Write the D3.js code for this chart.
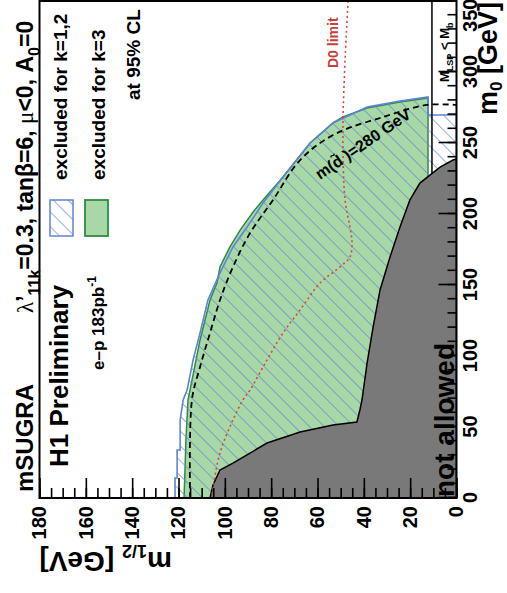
<!DOCTYPE html>
<html><head><meta charset="utf-8">
<script src="https://cdn.jsdelivr.net/npm/d3@7"></script>
<style>
body{margin:0;background:#fff}
svg{display:block}
text{font-family:"Liberation Sans",Arial,sans-serif;font-weight:bold;fill:#000}
</style>
</head><body>
<svg id="c" width="507" height="593"></svg>
<script>
// ---- data (m0 [GeV], m1/2 [GeV]) ----
const m0MajorTicks = [0,50,100,150,200,250,300,350];
const m0MinorTicks = d3.range(0,351,10);
const m12MajorTicks = [0,20,40,60,80,100,120,140,160,180];
const m12MinorTicks = d3.range(0,181,5);

const grayM0  = [0, 9.2, 19.7, 24.6, 38.7, 46.5, 51.4, 53.5, 62, 69, 95, 120.4, 146.5, 169.7, 190.8, 209.9, 221.8, 233, 238, 238.7, 0];
const grayM12 = [106.4, 105.1, 102.1, 96.5, 81.8, 67.5, 53.3, 43.0, 41.7, 40.8, 38.6, 36.0, 33.0, 28.7, 24.4, 20.1, 15.8, 7.1, 1.5, 0, 0];

const k3M0  = [0, 19.7, 40.8, 69, 111.3, 139.4, 151.4, 162.7, 176.8, 188.7, 201.4, 209.9, 226.1, 250, 264.1, 268.3, 274.6, 278.9, 281.7, 226, 0];
const k3M12 = [117.6, 117.2, 116.8, 115.9, 110.7, 106.4, 103.4, 102.1, 97.8, 93.4, 87.8, 83.5, 74.9, 63.2, 53.3, 49.0, 38.6, 24.4, 12.3, 12.3, 12.3];

const k12M0  = [0, 14.1, 14.1, 33.8, 33.8, 54.9, 69, 76, 97.2, 116.2, 139.4, 158.5, 176.8, 190.8, 207.7, 226, 250, 264.1, 275.4, 279.6, 282.4, 269.7, 269.7, 0];
const k12M12 = [121.5, 121.5, 120.6, 120.6, 119.3, 119.3, 118.0, 116.3, 113.7, 110.7, 107.3, 102.1, 96.5, 90.4, 83.5, 74.9, 63.2, 53.3, 38.6, 24.4, 12.3, 12.3, 0, 0];

const sdM0  = [0, 69, 92.3, 116.2, 139.4, 162.7, 186.6, 209.9, 238, 255.6, 268.3, 276.8, 276.8];
const sdM12 = [115, 114.2, 110.7, 106.4, 102.1, 96.5, 89.1, 79.2, 67.5, 53.3, 31.7, 12.7, 0];

const d0M0  = [350, 264.1, 209.9, 190.8, 179.6, 169.7, 162.7, 151.4, 132.4, 116.2, 97.2, 76.1, 69, 54.9, 31.7, 7, 2];
const d0M12 = [46.8, 49.0, 48.1, 46.0, 45.1, 46.0, 50.3, 58.9, 67.5, 74.9, 81.8, 89.1, 92.2, 96.5, 102.1, 105.1, 105.5];

const lspM0 = [226, 350];
const lspM12 = [10.6, 10.6];

// ---- chart (drawn in the original orientation, then rotated -90deg) ----
const svg = d3.select('#c');
const defs = svg.append('defs');
const pat = defs.append('pattern').attr('id','hatch').attr('patternUnits','userSpaceOnUse')
  .attr('width',10.5).attr('height',10.5).attr('patternTransform','rotate(45)');
pat.append('line').attr('x1',0).attr('y1',-1).attr('x2',0).attr('y2',12)
  .attr('stroke','#5f83d6').attr('stroke-width',1.3);

const g = svg.append('g').attr('transform','translate(0,593) rotate(-90)');
const x = d3.scaleLinear().domain([0,350]).range([95,592]);
const y = d3.scaleLinear().domain([0,180]).range([456.5,39.5]);

defs.append('clipPath').attr('id','clip').append('rect')
  .attr('x',x(0)).attr('y',y(180)).attr('width',x(350)-x(0)).attr('height',y(0)-y(180));

const zipPts = (a,b) => a.map((v,i)=>[v,b[i]]);
const line = d3.line().x(d=>x(d[0])).y(d=>y(d[1]));
const plot = g.append('g').attr('clip-path','url(#clip)');

plot.append('path').attr('d', line(zipPts(k3M0,k3M12))+'Z')
  .attr('fill','#a8d8a6').attr('stroke','#2e8b45').attr('stroke-width',1.5);
plot.append('path').attr('d', line(zipPts(k12M0,k12M12))+'Z')
  .attr('fill','url(#hatch)').attr('stroke','#5f83d6').attr('stroke-width',1.6);
plot.append('path').attr('d', line(zipPts(lspM0,lspM12)))
  .attr('fill','none').attr('stroke','#000').attr('stroke-width',1.5);
plot.append('path').attr('d', line(zipPts(grayM0,grayM12))+'Z')
  .attr('fill','#797979').attr('stroke','#000').attr('stroke-width',1.5);
plot.append('path').attr('d', line.curve(d3.curveCatmullRom)(zipPts(sdM0,sdM12)))
  .attr('fill','none').attr('stroke','#000').attr('stroke-width',1.8).attr('stroke-dasharray','6,4');
plot.append('path').attr('d', line.curve(d3.curveCatmullRom)(zipPts(d0M0,d0M12)))
  .attr('fill','none').attr('stroke','#d2483c').attr('stroke-width',1.6).attr('stroke-dasharray','2,3');

// frame
g.append('rect').attr('x',x(0)).attr('y',y(180)).attr('width',x(350)-x(0)).attr('height',y(0)-y(180))
  .attr('fill','none').attr('stroke','#000').attr('stroke-width',2);

// axes
function styleAxis(sel, fs){
  sel.select('.domain').remove();
  sel.selectAll('line').attr('stroke','#000').attr('stroke-width',1.6);
  sel.selectAll('text').style('font-size',fs+'px').style('font-family','"Liberation Sans",Arial,sans-serif').style('font-weight','bold').attr('fill','#000');
}
const axM0min = g.append('g').attr('transform',`translate(0,${y(0)})`)
  .call(d3.axisBottom(x).tickValues(m0MinorTicks).tickSizeInner(-9).tickSizeOuter(0).tickFormat(''));
styleAxis(axM0min,20);
const axM0 = g.append('g').attr('transform',`translate(0,${y(0)})`)
  .call(d3.axisBottom(x).tickValues(m0MajorTicks).tickSizeInner(-18).tickSizeOuter(0).tickPadding(6).tickFormat(d3.format('d')));
styleAxis(axM0,20);
// keep the last label inside the picture
axM0.selectAll('.tick').filter(d => d === 350).select('text').attr('text-anchor','end').attr('dx',2);
const axM12min = g.append('g').attr('transform',`translate(${x(0)},0)`)
  .call(d3.axisLeft(y).tickValues(m12MinorTicks).tickSizeInner(-10).tickSizeOuter(0).tickFormat(''));
styleAxis(axM12min,20);
const axM12 = g.append('g').attr('transform',`translate(${x(0)},0)`)
  .call(d3.axisLeft(y).tickValues(m12MajorTicks).tickSizeInner(-20).tickSizeOuter(0).tickPadding(8).tickFormat(d3.format('d')));
styleAxis(axM12,20);

// axis titles
const t0 = g.append('text').attr('x',591).attr('y',497).attr('text-anchor','end').style('font-size','27px');
t0.append('tspan').text('m');
t0.append('tspan').attr('dy',5).style('font-size','17px').text('0');
t0.append('tspan').attr('dy',-5).text(' [GeV]');

const t12 = g.append('text').attr('transform',`translate(41,${y(180)}) rotate(-90)`).attr('text-anchor','end').style('font-size','28px');
t12.append('tspan').text('m');
t12.append('tspan').attr('dy',7).style('font-size','18px').text('1/2');
t12.append('tspan').attr('dy',-7).text(' [GeV]');

// header
g.append('text').attr('x',101).attr('y',33).style('font-size','24px').text('mSUGRA');
const tt = g.append('text').attr('x',280).attr('y',33).style('font-size','23px');
tt.append('tspan').style('font-family','"Liberation Serif",serif').style('font-weight','normal').text('λ');
tt.append('tspan').text('’');
tt.append('tspan').attr('dy',7).style('font-size','16px').text('11k');
tt.append('tspan').attr('dy',-7).text('=0.3, tanβ=6, ');
tt.append('tspan').style('font-family','"Liberation Serif",serif').style('font-weight','normal').text('μ');
tt.append('tspan').text('<0, A');
tt.append('tspan').attr('dy',7).style('font-size','16px').text('0');
tt.append('tspan').attr('dy',-7).text('=0');

g.append('text').attr('x',126).attr('y',68).style('font-size','26px').text('H1 Preliminary');
const ep = g.append('text').attr('x',223).attr('y',104).style('font-size','17px');
ep.append('tspan').text('e–p 183pb');
ep.append('tspan').attr('dy',-8).style('font-size','12px').text('-1');

// legend
g.append('rect').attr('x',357).attr('y',50).attr('width',36).attr('height',23)
  .attr('fill','url(#hatch)').attr('stroke','#5f83d6').attr('stroke-width',1.5);
g.append('rect').attr('x',357).attr('y',85).attr('width',36).attr('height',23)
  .attr('fill','#a8d8a6').attr('stroke','#2e8b45').attr('stroke-width',1.8);
g.append('text').attr('x',413).attr('y',67).style('font-size','19px').text('excluded for k=1,2');
g.append('text').attr('x',413).attr('y',105).style('font-size','19px').text('excluded for k=3');
g.append('text').attr('x',493).attr('y',140).style('font-size','19px').text('at 95% CL');

// annotations
g.append('text').attr('x',525).attr('y',338).style('font-size','14px').style('fill','#c8403a').text('D0 limit');
g.append('text').attr('transform','translate(413,320) rotate(55.6)').style('font-size','16px').text('m(d̃ )=280 GeV');
const lsp = g.append('text').attr('x',511).attr('y',449).style('font-size','13px');
lsp.append('tspan').text('M');
lsp.append('tspan').attr('dy',4).style('font-size','9px').text('LSP');
lsp.append('tspan').attr('dy',-4).text(' < M');
lsp.append('tspan').attr('dy',4).style('font-size','9px').text('b');
g.append('text').attr('x',96).attr('y',454).style('font-size','28px').text('not allowed');
</script>
</body></html>
